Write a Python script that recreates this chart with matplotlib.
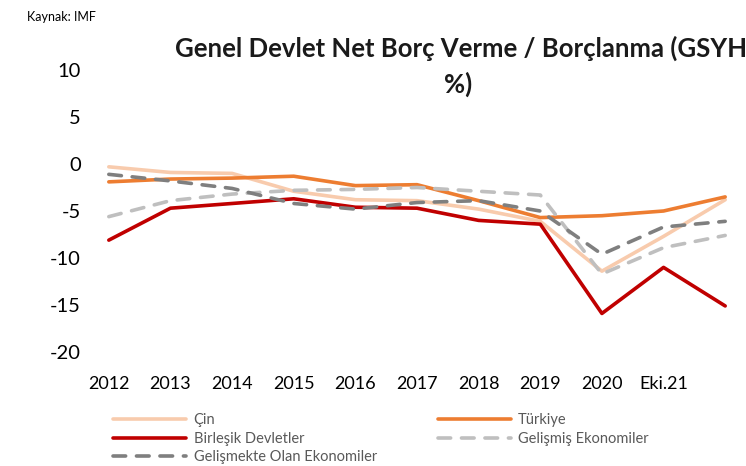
import matplotlib
matplotlib.use("Agg")
import matplotlib.pyplot as plt

plt.rcParams['font.family'] = ['Lato', 'DejaVu Sans']

# kategoriler (son nokta etiketsiz)
years = ['2012', '2013', '2014', '2015', '2016', '2017', '2018', '2019', '2020', 'Eki.21', '']

cin = [-0.3, -0.9, -1.0, -2.9, -3.8, -3.9, -4.8, -6.1, -11.4, -7.7, -3.8]
turkiye = [-1.9, -1.6, -1.5, -1.3, -2.3, -2.2, -3.9, -5.7, -5.5, -5.0, -3.5]
abd = [-8.1, -4.7, -4.2, -3.7, -4.6, -4.7, -6.0, -6.4, -15.9, -11.0, -15.1]
gelismis = [-5.6, -3.9, -3.2, -2.8, -2.7, -2.5, -2.9, -3.3, -11.7, -8.9, -7.6]
gelismekte = [-1.1, -1.8, -2.6, -4.2, -4.8, -4.1, -3.9, -5.0, -9.6, -6.7, -6.1]

yticks = [10, 5, 0, -5, -10, -15, -20]

fig = plt.figure(figsize=(7.46, 4.66), dpi=100)
W, H = 746, 466
ax = fig.add_axes([78 / W, 1 - 352 / H, (756 - 78) / W, (352 - 70) / H])

x = list(range(len(years)))
lw = 2.6
l_cin, = ax.plot(x, cin, color='#F8CBAD', lw=lw, label='Çin')
l_tr, = ax.plot(x, turkiye, color='#ED7D31', lw=lw, label='Türkiye')
l_abd, = ax.plot(x, abd, color='#C00000', lw=lw, label='Birleşik Devletler')
l_gs, = ax.plot(x, gelismis, color='#BFBFBF', lw=lw, dashes=(3.5, 3), label='Gelişmiş Ekonomiler')
l_gm, = ax.plot(x, gelismekte, color='#7F7F7F', lw=lw, dashes=(3.5, 3), label='Gelişmekte Olan Ekonomiler')
for l in (l_cin, l_tr, l_abd, l_gs, l_gm):
    l.set_solid_capstyle('round')
    l.set_dash_capstyle('round')

ax.set_xlim(-0.5, len(years) - 0.5)
ax.set_ylim(-20, 10)
ax.set_yticks(yticks)
ax.set_yticklabels([str(v) for v in yticks], fontsize=14.5)
ax.set_xticks(x)
ax.set_xticklabels(years, fontsize=13)
ax.tick_params(axis='y', length=0, pad=-2)
ax.tick_params(axis='x', length=0, pad=17)
for s in ax.spines.values():
    s.set_visible(False)

fig.text(27 / W, 1 - 17 / H, 'Kaynak: IMF', fontsize=9, va='center', ha='left')
fig.text(175 / W, 1 - 48 / H, 'Genel Devlet Net Borç Verme / Borçlanma (GSYH',
         fontsize=18.5, fontweight='bold', color='#1a1a1a', va='center', ha='left')
fig.text(458 / W, 1 - 84 / H, '%)', fontsize=18.5, fontweight='bold',
         color='#1a1a1a', va='center', ha='center')

leg = fig.legend([l_cin, l_abd, l_gm, l_tr, l_gs],
                 ['Çin', 'Birleşik Devletler', 'Gelişmekte Olan Ekonomiler', 'Türkiye', 'Gelişmiş Ekonomiler'],
                 ncol=2, loc='upper left', bbox_to_anchor=(106 / W, 1 - 406 / H),
                 frameon=False, fontsize=10.5, handlelength=5.0, handletextpad=0.5,
                 columnspacing=4.2, labelspacing=0.3, borderpad=0)
for t in leg.get_texts():
    t.set_color('#595959')

fig.savefig('out.png', dpi=100)
